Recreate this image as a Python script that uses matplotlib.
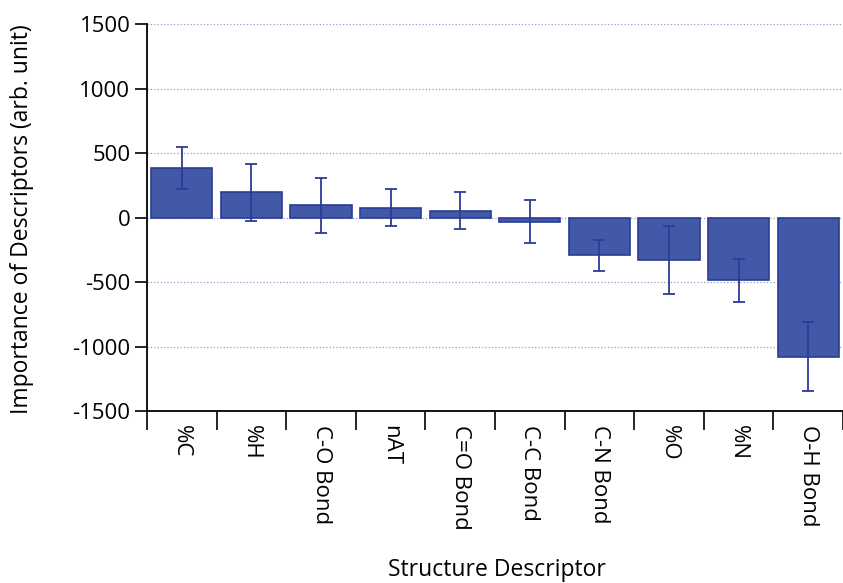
import matplotlib.pyplot as plt
import numpy as np

plt.rcParams['font.family'] = ['Open Sans', 'DejaVu Sans']
plt.rcParams['axes.unicode_minus'] = False

# descriptor importance
descriptors = ['%C', '%H', 'C-O Bond', 'nAT', 'C=O Bond', 'C-C Bond', 'C-N Bond', '%O', '%N', 'O-H Bond']
importance = [385, 195, 95, 75, 52, -32, -292, -328, -488, -1078]
errors = [165, 223, 214, 143, 142, 165, 119, 263, 165, 265]

fig = plt.figure(figsize=(8.43, 5.83), dpi=100)
ax = fig.add_axes([0.1744, 0.295, 0.8256, 0.6638])

x = np.arange(len(descriptors))
ax.bar(x, importance, width=0.88, color='#4259A8', edgecolor='#2A3C94', linewidth=1.2,
       yerr=errors, error_kw=dict(ecolor='#2B3C96', elinewidth=1.3, capsize=4.5, capthick=1.3),
       zorder=3)

ax.set_xlim(-0.5, 9.37)
ax.set_ylim(-1500, 1500)
ax.set_yticks(np.arange(-1500, 1501, 500))
ax.yaxis.grid(True, linestyle=':', color='#9A9ACC', linewidth=0.9, zorder=0)

# labels centred on bars, tick marks at category borders
ax.set_xticks(x)
ax.set_xticklabels(descriptors, rotation=270, fontsize=16)
ax.tick_params(axis='x', which='major', length=0, pad=10)
ax.set_xticks(np.arange(-0.5, 10, 1), minor=True)
ax.tick_params(axis='x', which='minor', length=14, width=1.2, direction='out')
ax.tick_params(axis='y', labelsize=16, length=9, width=1.2, pad=3)

for s in ['top', 'right']:
    ax.spines[s].set_visible(False)
for s in ['left', 'bottom']:
    ax.spines[s].set_linewidth(1.3)

fig.text(22 / 843, 0.625, 'Importance of Descriptors (arb. unit)', fontsize=16.5,
         rotation=90, ha='center', va='center')
fig.text(0.59, 0.0223, 'Structure Descriptor', fontsize=16.5, ha='center', va='center')

fig.savefig('out.png', dpi=100)
